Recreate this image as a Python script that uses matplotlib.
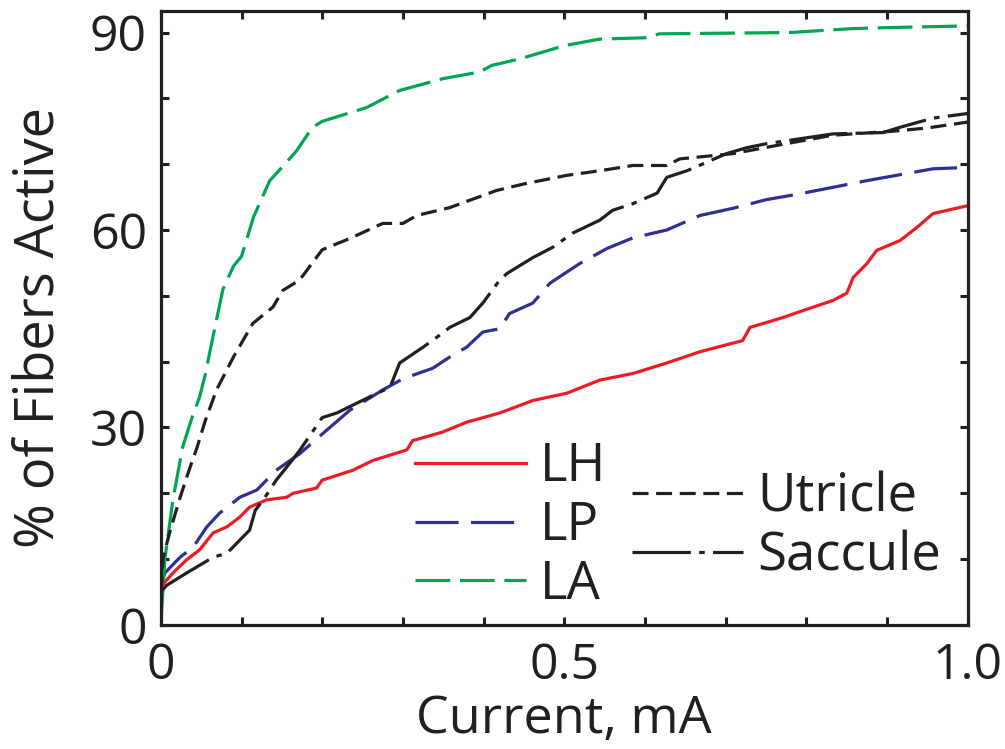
import numpy as np
import matplotlib
matplotlib.use("Agg")
import matplotlib.pyplot as plt
from matplotlib.ticker import FixedLocator, FixedFormatter

plt.rcParams['font.family'] = ['Open Sans', 'DejaVu Sans']
plt.rcParams['lines.scale_dashes'] = False

# curves (current in mA, % of fibers active)
lh_x = [0, 0.015, 0.032, 0.048, 0.065, 0.082, 0.098, 0.11, 0.131, 0.156, 0.164, 0.193, 0.2,
        0.238, 0.263, 0.305, 0.312, 0.349, 0.379, 0.42, 0.461, 0.503, 0.544, 0.585, 0.627,
        0.668, 0.721, 0.73, 0.771, 0.792, 0.833, 0.85, 0.858, 0.875, 0.887, 0.916, 0.937,
        0.957, 1.0]
lh_y = [5.8, 7.9, 9.9, 11.4, 14, 14.9, 16.4, 17.9, 19, 19.4, 20, 20.8, 22,
        23.5, 25, 26.6, 28, 29.3, 30.8, 32.2, 34.1, 35.2, 37.2, 38.2, 39.8,
        41.5, 43.2, 45.2, 46.7, 47.6, 49.3, 50.4, 52.8, 54.9, 56.9, 58.4, 60.4,
        62.5, 63.7]

lp_x = [0, 0.005, 0.024, 0.04, 0.057, 0.073, 0.098, 0.119, 0.143, 0.172, 0.2, 0.234, 0.275,
        0.3, 0.337, 0.358, 0.379, 0.399, 0.42, 0.432, 0.461, 0.482, 0.519, 0.553, 0.585,
        0.627, 0.668, 0.709, 0.75, 0.792, 0.875, 0.957, 1.0]
lp_y = [6, 7.9, 10.3, 11.8, 14.9, 17, 19.4, 20.5, 23.5, 26, 29, 32.6, 35.7,
        37.4, 39, 40.7, 42.2, 44.5, 45, 47.3, 48.9, 51.9, 54.9, 57.2, 58.8,
        60, 62.2, 63.3, 64.6, 65.5, 67.5, 69.3, 69.5]

la_x = [0, 0.005, 0.015, 0.027, 0.04, 0.048, 0.055, 0.065, 0.077, 0.09, 0.1, 0.115, 0.135,
        0.15, 0.168, 0.188, 0.2, 0.213, 0.255, 0.296, 0.35, 0.395, 0.41, 0.445, 0.5, 0.544,
        0.6, 0.618, 0.7, 0.78, 0.858, 0.92, 1.0]
la_y = [0, 10, 19, 27, 32, 34.6, 38, 44, 51, 54.5, 56, 62, 67.5,
        69.5, 72, 75.6, 76.5, 77, 78.6, 81.2, 83, 84, 85, 86, 88, 89,
        89.2, 89.8, 89.9, 90, 90.6, 90.8, 91]

utr_x = [0, 0.003, 0.012, 0.024, 0.035, 0.045, 0.055, 0.069, 0.09, 0.114, 0.139, 0.151,
         0.172, 0.2, 0.234, 0.275, 0.3, 0.317, 0.358, 0.416, 0.45, 0.503, 0.544, 0.585,
         0.627, 0.643, 0.709, 0.77, 0.833, 0.907, 0.95, 1.0]
utr_y = [5, 10.3, 14.5, 19.4, 23.5, 27, 31, 35.7, 40.7, 45.8, 48.3, 50.8,
         52.4, 57, 58.7, 61, 61, 62.2, 63.4, 66, 67, 68.3, 69, 69.8,
         69.8, 70.8, 71.6, 73, 74.4, 75, 75.5, 76.4]

sac_x = [0, 0.007, 0.032, 0.065, 0.082, 0.098, 0.11, 0.117, 0.127, 0.143, 0.16, 0.172, 0.2,
         0.218, 0.243, 0.268, 0.284, 0.296, 0.325, 0.342, 0.358, 0.383, 0.399, 0.42, 0.429,
         0.461, 0.486, 0.51, 0.544, 0.56, 0.585, 0.615, 0.627, 0.652, 0.701, 0.726, 0.75,
         0.833, 0.895, 0.916, 0.957, 1.0]
sac_y = [5, 6, 7.9, 10.3, 10.9, 12.9, 14.4, 17.4, 19, 22, 24.6, 26.5, 31.5,
         32.2, 33.7, 35.2, 36.1, 39.8, 42.2, 43.7, 45.2, 46.7, 48.9, 52.4, 53.4,
         55.8, 57.4, 59.5, 61.5, 63, 64, 65.6, 68, 69, 71.6, 72.5, 73.1,
         74.6, 74.8, 75.6, 77, 77.7]

fig = plt.figure(figsize=(10.05, 7.49), dpi=100)
ax = fig.add_axes([0.160, 0.1656, 0.803, 0.820])

lw = 2.3
l_lh, = ax.plot(lh_x, lh_y, color='#ed1c24', lw=lw, label='LH')
l_lp, = ax.plot(lp_x, lp_y, color='#2e3192', lw=lw, ls=(0, (31, 9)), label='LP')
l_la, = ax.plot(la_x, la_y, color='#00a651', lw=lw, ls=(0, (25, 7)), label='LA')
l_ut, = ax.plot(utr_x, utr_y, color='#231f20', lw=lw, ls=(0, (11.5, 5.5)), label='Utricle')
l_sa, = ax.plot(sac_x, sac_y, color='#231f20', lw=lw, ls=(0, (42, 6, 4, 6)), label='Saccule')

ax.set_xlim(0, 1.0)
ax.set_ylim(0, 93.3)

xt = [round(0.1 * i, 1) for i in range(11)]
yt = [10 * i for i in range(10)]
ax.xaxis.set_major_locator(FixedLocator(xt))
ax.xaxis.set_major_formatter(FixedFormatter(['0', '', '', '', '', '0.5', '', '', '', '', '1.0']))
ax.yaxis.set_major_locator(FixedLocator(yt))
ax.yaxis.set_major_formatter(FixedFormatter(['0', '', '', '30', '', '', '60', '', '', '90']))
ax.tick_params(direction='in', length=6, width=2.2, top=True, right=True,
               labelsize=36, colors='#231f20')
ax.tick_params(axis='x', pad=12)
ax.tick_params(axis='y', pad=10)
for s in ax.spines.values():
    s.set_linewidth(2.3)
    s.set_color('#231f20')

ax.set_xlabel('Current, mA', fontsize=37.5, color='#231f20', labelpad=2)
ax.set_ylabel('% of Fibers Active', fontsize=39, color='#231f20')
ax.yaxis.set_label_coords(-0.117, 0.485)

leg1 = ax.legend(handles=[l_lh, l_lp, l_la], loc='upper left', bbox_to_anchor=(0.315, 0.30),
                 frameon=False, fontsize=38, handlelength=2.1, handletextpad=0.27,
                 labelspacing=0.1, borderpad=0, borderaxespad=0)
for t in leg1.get_texts():
    t.set_color('#231f20')
ax.add_artist(leg1)
leg2 = ax.legend(handles=[l_ut, l_sa], loc='upper left', bbox_to_anchor=(0.584, 0.25),
                 frameon=False, fontsize=38, handlelength=2.1, handletextpad=0.27,
                 labelspacing=0.1, borderpad=0, borderaxespad=0)
for t in leg2.get_texts():
    t.set_color('#231f20')

fig.savefig('out.png', dpi=100)
